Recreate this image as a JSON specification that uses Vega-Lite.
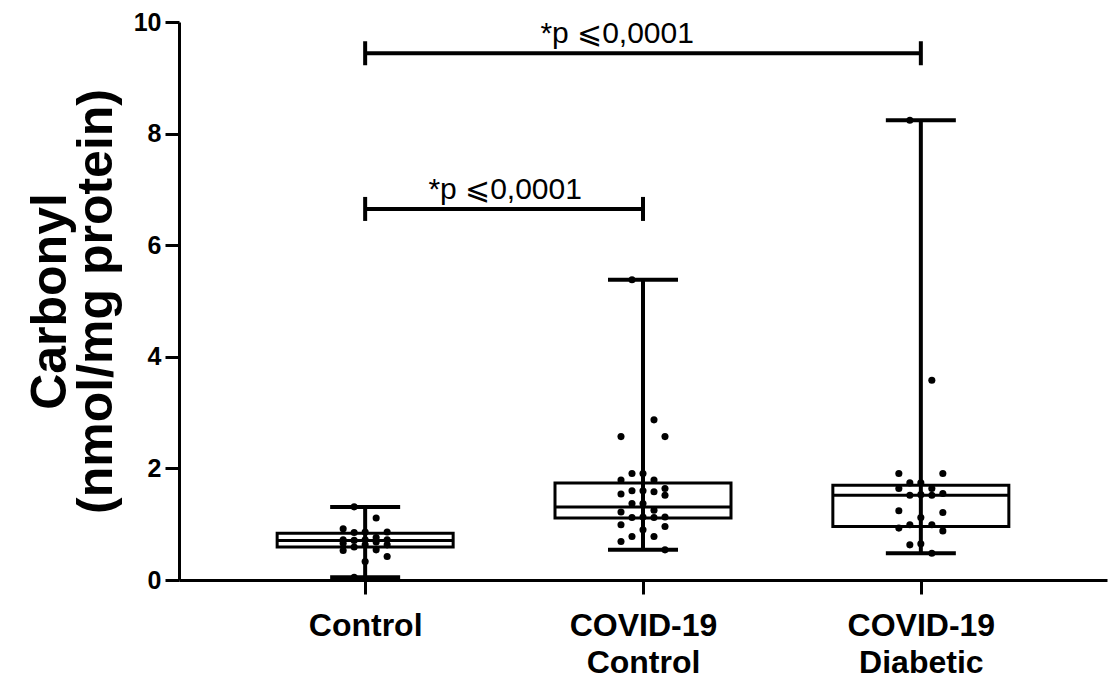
{
  "$schema": "https://vega.github.io/schema/vega-lite/v6.json",
  "width": 928,
  "height": 558,
  "autosize": {"type": "none"},
  "padding": {"left": 179, "top": 22, "right": 3, "bottom": 99},
  "background": "white",
  "config": {
    "view": {"stroke": null},
    "font": "Liberation Sans",
    "tick": {"opacity": 1},
    "axis": {
      "domainColor": "black",
      "domainWidth": 3,
      "tickColor": "black",
      "tickWidth": 3,
      "tickSize": 14,
      "labelColor": "black",
      "labelFont": "Liberation Sans",
      "labelFontWeight": "bold",
      "titleColor": "black",
      "titleFont": "Liberation Sans",
      "grid": false
    }
  },
  "datasets": {
    "points": [
      {"group": "Control", "value": 1.31},
      {"group": "Control", "value": 1.11},
      {"group": "Control", "value": 0.92},
      {"group": "Control", "value": 0.86},
      {"group": "Control", "value": 0.86},
      {"group": "Control", "value": 0.85},
      {"group": "Control", "value": 0.76},
      {"group": "Control", "value": 0.72},
      {"group": "Control", "value": 0.72},
      {"group": "Control", "value": 0.72},
      {"group": "Control", "value": 0.71},
      {"group": "Control", "value": 0.68},
      {"group": "Control", "value": 0.66},
      {"group": "Control", "value": 0.63},
      {"group": "Control", "value": 0.63},
      {"group": "Control", "value": 0.59},
      {"group": "Control", "value": 0.54},
      {"group": "Control", "value": 0.53},
      {"group": "Control", "value": 0.42},
      {"group": "Control", "value": 0.33},
      {"group": "Control", "value": 0.05},
      {"group": "COVID-19 Control", "value": 5.38},
      {"group": "COVID-19 Control", "value": 2.87},
      {"group": "COVID-19 Control", "value": 2.57},
      {"group": "COVID-19 Control", "value": 2.57},
      {"group": "COVID-19 Control", "value": 1.91},
      {"group": "COVID-19 Control", "value": 1.91},
      {"group": "COVID-19 Control", "value": 1.79},
      {"group": "COVID-19 Control", "value": 1.79},
      {"group": "COVID-19 Control", "value": 1.64},
      {"group": "COVID-19 Control", "value": 1.6},
      {"group": "COVID-19 Control", "value": 1.6},
      {"group": "COVID-19 Control", "value": 1.58},
      {"group": "COVID-19 Control", "value": 1.54},
      {"group": "COVID-19 Control", "value": 1.52},
      {"group": "COVID-19 Control", "value": 1.37},
      {"group": "COVID-19 Control", "value": 1.37},
      {"group": "COVID-19 Control", "value": 1.25},
      {"group": "COVID-19 Control", "value": 1.22},
      {"group": "COVID-19 Control", "value": 1.13},
      {"group": "COVID-19 Control", "value": 1.13},
      {"group": "COVID-19 Control", "value": 1.12},
      {"group": "COVID-19 Control", "value": 1.12},
      {"group": "COVID-19 Control", "value": 0.99},
      {"group": "COVID-19 Control", "value": 0.96},
      {"group": "COVID-19 Control", "value": 0.9},
      {"group": "COVID-19 Control", "value": 0.78},
      {"group": "COVID-19 Control", "value": 0.78},
      {"group": "COVID-19 Control", "value": 0.69},
      {"group": "COVID-19 Control", "value": 0.54},
      {"group": "COVID-19 Diabetic", "value": 8.24},
      {"group": "COVID-19 Diabetic", "value": 3.58},
      {"group": "COVID-19 Diabetic", "value": 1.91},
      {"group": "COVID-19 Diabetic", "value": 1.91},
      {"group": "COVID-19 Diabetic", "value": 1.74},
      {"group": "COVID-19 Diabetic", "value": 1.74},
      {"group": "COVID-19 Diabetic", "value": 1.64},
      {"group": "COVID-19 Diabetic", "value": 1.64},
      {"group": "COVID-19 Diabetic", "value": 1.55},
      {"group": "COVID-19 Diabetic", "value": 1.53},
      {"group": "COVID-19 Diabetic", "value": 1.52},
      {"group": "COVID-19 Diabetic", "value": 1.52},
      {"group": "COVID-19 Diabetic", "value": 1.24},
      {"group": "COVID-19 Diabetic", "value": 1.21},
      {"group": "COVID-19 Diabetic", "value": 1.12},
      {"group": "COVID-19 Diabetic", "value": 0.99},
      {"group": "COVID-19 Diabetic", "value": 0.99},
      {"group": "COVID-19 Diabetic", "value": 0.93},
      {"group": "COVID-19 Diabetic", "value": 0.88},
      {"group": "COVID-19 Diabetic", "value": 0.65},
      {"group": "COVID-19 Diabetic", "value": 0.63},
      {"group": "COVID-19 Diabetic", "value": 0.48}
    ],
    "boxes": [
      {"group": "Control", "lo": 0.05, "q1": 0.59, "median": 0.71, "q3": 0.84, "hi": 1.31},
      {"group": "COVID-19 Control", "lo": 0.54, "q1": 1.11, "median": 1.31, "q3": 1.74, "hi": 5.38},
      {"group": "COVID-19 Diabetic", "lo": 0.48, "q1": 0.96, "median": 1.52, "q3": 1.7, "hi": 8.24}
    ],
    "brackets": [
      {"id": "top", "from": "Control", "to": "COVID-19 Diabetic", "y": 9.44, "label": "*p ⩽0,0001"},
      {"id": "low", "from": "Control", "to": "COVID-19 Control", "y": 6.65, "label": "*p ⩽0,0001"}
    ]
  },
  "layer": [
    {
      "data": {"name": "boxes"},
      "mark": {"type": "rule", "color": "black", "strokeWidth": 4},
      "encoding": {
        "x": {
          "field": "group", "type": "nominal",
          "scale": {"type": "point", "padding": 0.67, "domain": ["Control", "COVID-19 Control", "COVID-19 Diabetic"]},
          "axis": {
            "title": null, "labelAngle": 0, "labelFontSize": 32, "labelLineHeight": 37,
            "labelPadding": 16,
            "labelExpr": "datum.value == 'Control' ? 'Control' : split(datum.value, ' ')"
          }
        },
        "y": {
          "field": "lo", "type": "quantitative",
          "scale": {"domain": [0, 10], "nice": false},
          "axis": {
            "values": [0, 2, 4, 6, 8, 10], "labelFontSize": 25, "labelPadding": 4,
            "title": ["Carbonyl", "(nmol/mg protein)"], "titleFontSize": 50,
            "titleFontWeight": "bold", "titleLineHeight": 46, "titlePadding": 12
          }
        },
        "y2": {"field": "hi"}
      }
    },
    {
      "data": {"name": "boxes"},
      "transform": [{"fold": ["lo", "hi"], "as": ["cap", "v"]}],
      "mark": {"type": "tick", "orient": "horizontal", "color": "black", "opacity": 1, "size": 70, "thickness": 4},
      "encoding": {
        "x": {"field": "group", "type": "nominal", "scale": {"domain": ["Control", "COVID-19 Control", "COVID-19 Diabetic"]}},
        "y": {"field": "v", "type": "quantitative"}
      }
    },
    {
      "data": {"name": "boxes"},
      "mark": {"type": "bar", "width": 176, "fillOpacity": 0, "stroke": "black", "strokeWidth": 3},
      "encoding": {
        "x": {"field": "group", "type": "nominal", "scale": {"domain": ["Control", "COVID-19 Control", "COVID-19 Diabetic"]}},
        "y": {"field": "q1", "type": "quantitative"},
        "y2": {"field": "q3"}
      }
    },
    {
      "data": {"name": "boxes"},
      "mark": {"type": "tick", "orient": "horizontal", "color": "black", "opacity": 1, "size": 176, "thickness": 3},
      "encoding": {
        "x": {"field": "group", "type": "nominal", "scale": {"domain": ["Control", "COVID-19 Control", "COVID-19 Diabetic"]}},
        "y": {"field": "median", "type": "quantitative"}
      }
    },
    {
      "data": {"name": "points"},
      "transform": [
        {"window": [{"op": "row_number", "as": "rank"}], "groupby": ["group"], "sort": [{"field": "value", "order": "descending"}]},
        {"calculate": "datum.rank % 5 == 0 ? 0 : (datum.rank % 5 == 1 ? -1 : (datum.rank % 5 == 2 ? 1 : (datum.rank % 5 == 3 ? -2 : 2)))", "as": "slot"}
      ],
      "mark": {"type": "circle", "color": "black", "opacity": 1, "size": 50},
      "encoding": {
        "x": {"field": "group", "type": "nominal", "scale": {"domain": ["Control", "COVID-19 Control", "COVID-19 Diabetic"]}},
        "xOffset": {"field": "slot", "type": "quantitative", "scale": {"domain": [-2, 2], "range": [-22, 22]}},
        "y": {"field": "value", "type": "quantitative"}
      }
    },
    {
      "data": {"name": "brackets"},
      "mark": {"type": "rule", "color": "black", "strokeWidth": 4},
      "encoding": {
        "x": {"field": "from", "type": "nominal", "scale": {"domain": ["Control", "COVID-19 Control", "COVID-19 Diabetic"]}},
        "x2": {"field": "to"},
        "y": {"field": "y", "type": "quantitative"}
      }
    },
    {
      "data": {"name": "brackets"},
      "transform": [{"fold": ["from", "to"], "as": ["end", "grp"]}],
      "mark": {"type": "tick", "orient": "vertical", "color": "black", "opacity": 1, "size": 24, "thickness": 4},
      "encoding": {
        "x": {"field": "grp", "type": "nominal", "scale": {"domain": ["Control", "COVID-19 Control", "COVID-19 Diabetic"]}},
        "y": {"field": "y", "type": "quantitative"}
      }
    },
    {
      "data": {"name": "brackets"},
      "transform": [{"filter": "datum.id == 'low'"}],
      "mark": {"type": "text", "fontSize": 30, "color": "black", "align": "center", "baseline": "alphabetic", "dx": 140, "dy": -10},
      "encoding": {
        "x": {"field": "from", "type": "nominal", "scale": {"domain": ["Control", "COVID-19 Control", "COVID-19 Diabetic"]}},
        "y": {"field": "y", "type": "quantitative"},
        "text": {"field": "label"}
      }
    },
    {
      "data": {"name": "brackets"},
      "transform": [{"filter": "datum.id == 'top'"}],
      "mark": {"type": "text", "fontSize": 30, "color": "black", "align": "center", "baseline": "alphabetic", "dx": 252, "dy": -10},
      "encoding": {
        "x": {"field": "from", "type": "nominal", "scale": {"domain": ["Control", "COVID-19 Control", "COVID-19 Diabetic"]}},
        "y": {"field": "y", "type": "quantitative"},
        "text": {"field": "label"}
      }
    }
  ]
}
